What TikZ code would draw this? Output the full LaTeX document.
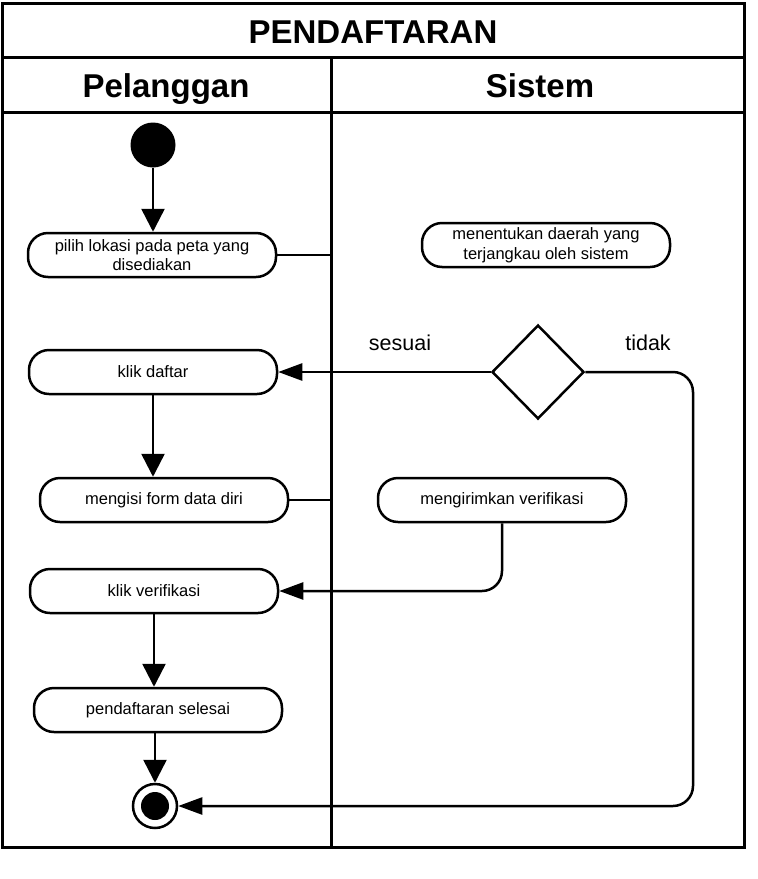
\documentclass[tikz,border=0pt]{standalone}
\usepackage{fontspec}
\setmainfont{Liberation Sans}
\usetikzlibrary{arrows.meta}
\usetikzlibrary{shapes.geometric}
\usetikzlibrary{calc}

\begin{document}
\begin{tikzpicture}[x=1pt, y=-1pt,
        activity/.style={draw, black, line width=2.5pt, rounded corners=20pt, minimum width=248pt, minimum height=44pt, align=center, font=\fontsize{16.5}{19.5}\selectfont},
        flow/.style={black, line width=2.5pt, -{Triangle[length=23pt, width=23pt]}},
        flowside/.style={black, line width=2.5pt, -{Triangle[length=24pt, width=17pt]}},
        link/.style={black, line width=2.5pt},
        lanehead/.style={anchor=base, font=\fontsize{33}{36}\selectfont\bfseries},
        guard/.style={font=\fontsize{21.5}{24}\selectfont}]
        \useasboundingbox (0,0) rectangle (758,879);
        \draw[black, line width=3pt] (2,3) rectangle (744,847);
        \foreach \y in {57, 112} {
                \draw[black, line width=3pt] (2,\y) -- (744,\y);
            }
        \draw[black, line width=3pt] (331,57) -- (331,847);
        \node[lanehead] (judul) at (373,43) {PENDAFTARAN};
        \node[lanehead] (pelanggan) at (166,97) {Pelanggan};
        \node[lanehead] (sistem) at (540,97) {Sistem};

        \node[circle, fill=black, minimum size=45pt, inner sep=0pt] (mulai) at (153,145) {};
        \node[activity] (pilih) at (152,255) {pilih lokasi pada peta yang\\disediakan};
        \node[activity] (tentukan) at (546,245) {menentukan daerah yang\\terjangkau oleh sistem};
        \node[draw, black, line width=2.5pt, diamond, aspect=1, minimum width=92pt, minimum height=94pt, inner sep=0pt] (cek) at (538,372) {};
        \node[activity] (daftar) at (153,372) {klik daftar};
        \node[activity] (isi) at (164,500) {mengisi form data diri};
        \node[activity] (kirim) at (502,500) {mengirimkan verifikasi};
        \node[activity] (verif) at (154,591) {klik verifikasi};
        \node[activity] (selesai) at (158,710) {pendaftaran selesai};
        \node[draw, black, circle, line width=2.5pt, minimum size=44pt, inner sep=0pt] (akhir) at (155,806) {};
        \fill[black] (akhir.center) circle (14);
        \node[guard] (sesuai) at (400,343) {sesuai};
        \node[guard] (tidak) at (648,343) {tidak};

        \coordinate (batas1) at (331,255);
        \coordinate (batas2) at (331,500);
        \coordinate (balik) at (693,590);
        \draw[flow] (mulai) -- (mulai |- pilih.north);
        \draw[link] (pilih.east) -- (batas1);
        \draw[flowside] (cek.west) -- (daftar.east);
        \draw[flowside, rounded corners=20pt] (cek.east) -| (balik) |- (akhir.east);
        \draw[flow] (daftar.south) -- (daftar.south |- isi.north);
        \draw[link] (isi.east) -- (batas2);
        \draw[flowside, rounded corners=20pt] (kirim.south) |- (verif.east);
        \draw[flow] (verif.south) -- (verif.south |- selesai.north);
        \draw[flow] (akhir |- selesai.south) -- (akhir);
    \end{tikzpicture}
\end{document}
